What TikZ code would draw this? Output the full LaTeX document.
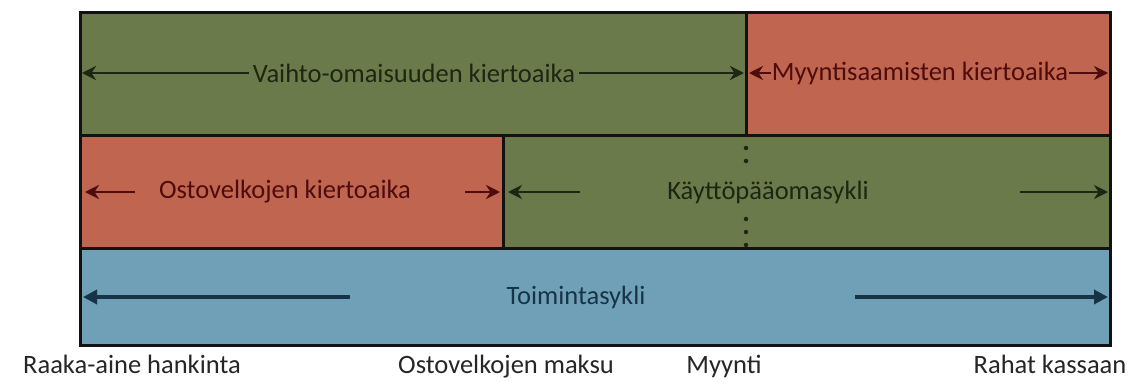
\documentclass[tikz,border=0pt]{standalone}
\usepackage{fontspec}
\setmainfont{Carlito}
\usetikzlibrary{arrows.meta,calc}
\definecolor{gbox}{HTML}{6B7A4B}
\definecolor{rbox}{HTML}{C0654F}
\definecolor{bbox}{HTML}{6FA0B7}
\definecolor{gtext}{HTML}{1C2612}
\definecolor{rtext}{HTML}{4E0C0C}
\definecolor{btext}{HTML}{173447}
\definecolor{edge}{HTML}{121212}
\begin{document}
\begin{tikzpicture}[x=1pt,y=-1pt,
  box/.style={draw=edge, line width=3pt, anchor=north west, inner sep=0pt, outer sep=0pt},
  lbl/.style={font=\fontsize{26.5}{30}\selectfont, inner sep=0pt},
  arr/.style={-{Stealth[length=14pt,width=14pt]}, line width=2.8pt},
  bigarr/.style={-{Triangle[length=14pt,width=14pt]}, line width=4.5pt},
  dot/.style={circle, fill=gtext, inner sep=0pt, minimum size=4.5pt}]
\useasboundingbox (0,0) rectangle (1128,383);
\fill[white] (0,0) rectangle (1128,383);
% boxes
\node[box, fill=gbox, minimum width=666pt, minimum height=123pt] (b1) at (80,12) {};
\node[box, fill=rbox, minimum width=364pt, minimum height=123pt] (b2) at (746,12) {};
\node[box, fill=rbox, minimum width=423pt, minimum height=113pt] (b3) at (80,135) {};
\node[box, fill=gbox, minimum width=607pt, minimum height=113pt] (b4) at (503,135) {};
\node[box, fill=bbox, minimum width=1030pt, minimum height=97pt] (b5) at (80,248) {};
% labels
\node[lbl, text=gtext] (t1) at (414,73) {Vaihto-omaisuuden kiertoaika};
\node[lbl, text=rtext] (t2) at (920,73) {Myyntisaamisten kiertoaika};
\node[lbl, text=rtext] (t3) at (285,192) {Ostovelkojen kiertoaika};
\node[lbl, text=gtext] (t4) at (768,192) {Käyttöpääomasykli};
\node[lbl, text=btext] (t5) at (576,297) {Toimintasykli};
% arrows
\draw[arr, gtext] ([xshift=-4pt]t1.west) -- ([xshift=2pt]t1.west -| b1.west);
\draw[arr, gtext] ([xshift=4pt]t1.east) -- ([xshift=-2pt]t1.east -| b1.east);
\draw[arr, rtext] ([xshift=-1pt]t2.west) -- ([xshift=3pt]t2.west -| b2.west);
\draw[arr, rtext] ([xshift=1pt]t2.east) -- ([xshift=-2pt]t2.east -| b2.east);
\coordinate (r3l) at ([xshift=55pt]t3.west -| b3.west);
\coordinate (r3r) at ([xshift=-38pt]t3.east -| b3.east);
\draw[arr, rtext] (r3l) -- ([xshift=5pt]t3.west -| b3.west);
\draw[arr, rtext] (r3r) -- ([xshift=-3pt]t3.east -| b3.east);
\coordinate (r4l) at ([xshift=77pt]t4.west -| b4.west);
\coordinate (r4r) at ([xshift=-90pt]t4.east -| b4.east);
\draw[arr, gtext] (r4l) -- ([xshift=5pt]t4.west -| b4.west);
\draw[arr, gtext] (r4r) -- ([xshift=-2pt]t4.east -| b4.east);
\coordinate (r5l) at ([xshift=270pt]t5.west -| b5.west);
\coordinate (r5r) at ([xshift=-255pt]t5.east -| b5.east);
\draw[bigarr, btext] (r5l) -- ([xshift=3pt]t5.west -| b5.west);
\draw[bigarr, btext] (r5r) -- ([xshift=-2pt]t5.east -| b5.east);
% dots
\foreach \yy/\n in {148/d1,161/d2,219/d3,232/d4,245/d5}
  \node[dot] (\n) at (746,\yy) {};
% bottom labels
\node[lbl, text=black!85, anchor=base] (p1) at (132,373) {Raaka-aine hankinta};
\node[lbl, text=black!85, anchor=base] (p2) at (506,373) {Ostovelkojen maksu};
\node[lbl, text=black!85, anchor=base] (p3) at (724,373) {Myynti};
\node[lbl, text=black!85, anchor=base] (p4) at (1050,373) {Rahat kassaan};
\end{tikzpicture}
\end{document}
